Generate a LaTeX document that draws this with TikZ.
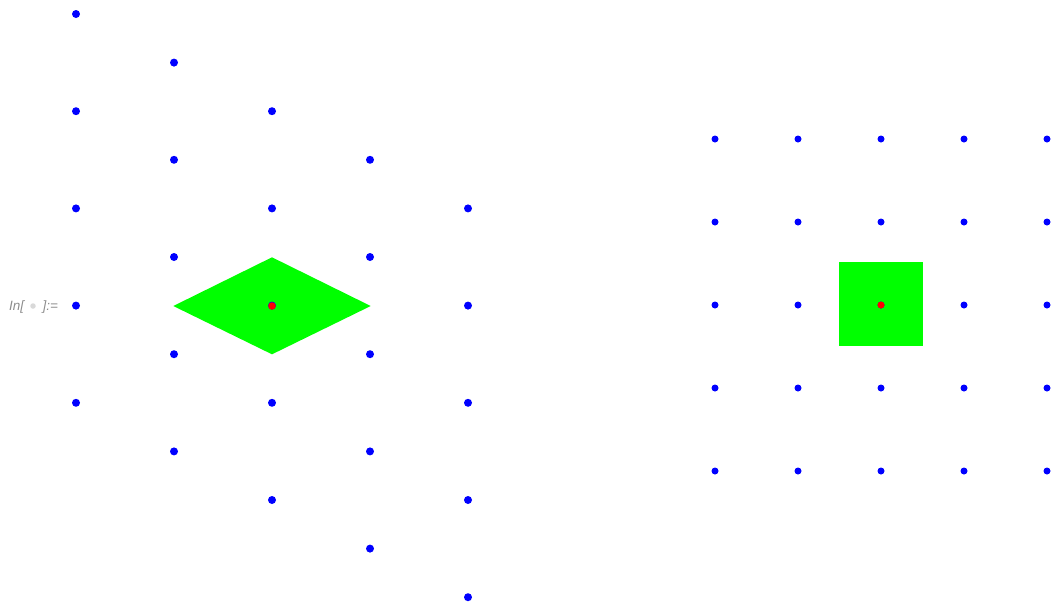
\documentclass[tikz,border=0pt]{standalone}
\usepackage{fontspec}
\setmainfont{Liberation Sans}
\begin{document}
\begin{tikzpicture}[x=1pt,y=-1pt,
  bdot/.style={circle,fill=blue,inner sep=0pt,minimum size=8pt},
  sdot/.style={circle,fill=blue,inner sep=0pt,minimum size=7pt},
  rdot/.style={circle,fill=red,inner sep=0pt,minimum size=7.5pt},
  lbl/.style={text=black!45,font=\itshape\fontsize{13.5}{15}\selectfont,inner sep=0pt}]
\useasboundingbox (0,0) rectangle (1055,606);
\definecolor{lgreen}{RGB}{0,255,0}
% left diamond
\fill[lgreen] (173.3,306) -- (272,257.3) -- (370.7,306) -- (272,354.3) -- cycle;
% left lattice
\foreach \i in {0,...,4}{
  \foreach \j in {0,...,4}{
    \pgfmathsetmacro{\xx}{76+98*\i}
    \pgfmathsetmacro{\yy}{14+48.6*\i+97.2*\j}
    \node[bdot] (L\i\j) at (\xx,\yy) {};
  }
}
\node[rdot] (Lc) at (272,306) {};
% right square
\fill[lgreen] (838.7,262.3) rectangle (922.7,346.3);
\foreach \i in {0,...,4}{
  \foreach \j in {0,...,4}{
    \pgfmathsetmacro{\xx}{715+83*\i}
    \pgfmathsetmacro{\yy}{139+83*\j}
    \node[sdot] (R\i\j) at (\xx,\yy) {};
  }
}
\node[rdot,minimum size=7pt] (Rc) at (881,305) {};
% label
\node[lbl,anchor=base west] (in1) at (9,310.5) {In[};
\node[lbl,anchor=base west] (in2) at (42.5,310.5) {]:=};
\node[circle,fill=black!15,inner sep=0pt,minimum size=5.5pt] (dotc) at (33,306) {};
\end{tikzpicture}
\end{document}
